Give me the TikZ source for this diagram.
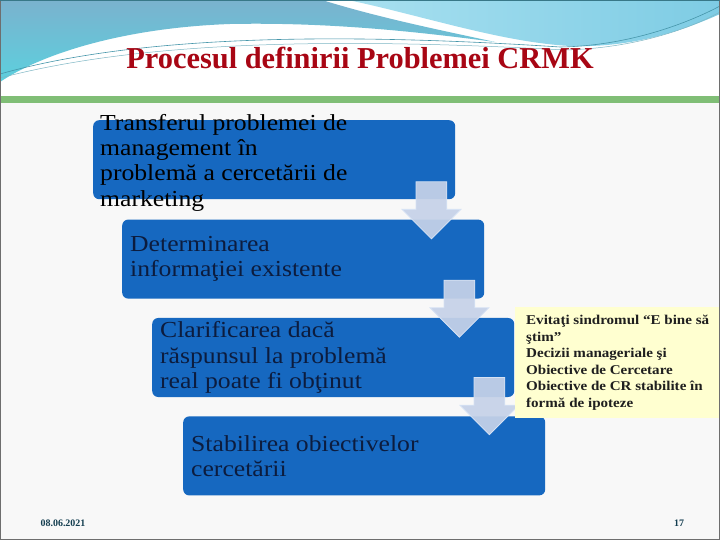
\documentclass[tikz,border=0pt]{standalone}
\usepackage{fontspec}
\setmainfont{Liberation Serif}
\newfontfamily\widefont[FakeStretch=1.12]{Liberation Serif}
\usetikzlibrary{shapes.arrows, positioning, calc}
\definecolor{boxblue}{RGB}{22,104,192}
\definecolor{arrowgrey}{RGB}{198,210,232}
\definecolor{arrowedge}{RGB}{214,226,244}
\definecolor{titlered}{RGB}{168,6,20}
\definecolor{textnavy}{RGB}{12,28,62}
\definecolor{noteyellow}{RGB}{255,255,208}
\definecolor{bargreen}{RGB}{128,190,118}
\definecolor{skytop}{RGB}{122,178,206}
\definecolor{skyteal}{RGB}{92,208,222}
\definecolor{skylight}{RGB}{168,224,240}
\definecolor{skymid}{RGB}{126,204,228}
\definecolor{waveline}{RGB}{70,150,170}
\definecolor{footteal}{RGB}{20,62,80}
\definecolor{slidebg}{RGB}{248,248,248}
\definecolor{frame}{RGB}{110,110,110}
\tikzset{
  stepbox/.style={rectangle, fill=boxblue, rounded corners=6bp,
    minimum width=362bp, minimum height=79bp, inner sep=0pt, anchor=north west},
  steptext/.style={anchor=west, align=left, inner sep=0pt,
    font=\widefont\fontsize{23}{25.5}\selectfont, text=textnavy},
  downarrow/.style={single arrow, rotate=-90, anchor=tail, fill=arrowgrey, fill opacity=0.93,
    draw=arrowedge, line width=0.8bp, minimum height=57bp,
    inner xsep=0pt, inner ysep=15bp, single arrow head extend=14bp},
  notebox/.style={rectangle, fill=noteyellow, anchor=north west, align=left,
    minimum width=205bp, minimum height=111bp, inner xsep=10bp, inner ysep=0pt,
    font=\widefont\fontsize{13.5}{16.5}\selectfont\bfseries, text=black!88},
  foot/.style={font=\fontsize{10}{12}\selectfont\bfseries, text=footteal}
}
\begin{document}
\begin{tikzpicture}[x=1bp, y=-1bp]
  \useasboundingbox (0,0) rectangle (720,540);
  % Slide background
  \fill[slidebg] (0,0) rectangle (720,540);
  \fill[white] (0,0) rectangle (720,100);

  % Header waves
  \shade[top color=skytop, bottom color=skyteal]
    (0,0) -- (322,0) .. controls (380,18) and (440,30) .. (495,42)
    .. controls (420,32) and (330,22) .. (230,24)
    .. controls (120,28) and (40,55) .. (0,82) -- cycle;
  \shade[left color=skylight, right color=skymid]
    (348,0) -- (720,0) -- (720,14) .. controls (680,32) and (630,48) .. (570,46)
    .. controls (500,42) and (420,15) .. (348,0) -- cycle;
  \draw[waveline, line width=0.6bp]
    (0,74) .. controls (120,40) and (300,30) .. (560,47)
    .. controls (630,46) and (690,22) .. (720,6);
  \draw[waveline!70, line width=0.5bp]
    (0,78) .. controls (130,44) and (310,36) .. (565,50)
    .. controls (640,48) and (695,26) .. (720,12);

  % Green bar
  \fill[bargreen] (0,96) rectangle (720,103);

  % Title
  \node[font=\fontsize{30.5}{32}\selectfont\bfseries, text=titlered] (title) at (360,58)
    {Procesul definirii Problemei CRMK};

  % Steps
  \node[stepbox] (b1) at (93,120) {};
  \node[stepbox] (b2) at ($(b1.south west)+(29,20)$) {};
  \node[stepbox] (b3) at ($(b2.south west)+(30,19)$) {};
  \node[stepbox] (b4) at ($(b3.south west)+(31,19)$) {};

  % Arrows between steps
  \node[downarrow] (a1) at ($(b1.south east)+(-24,-18)$) {};
  \node[downarrow] (a2) at ($(b2.south east)+(-25,-19)$) {};
  \node[downarrow] (a3) at ($(b3.south east)+(-25,-20)$) {};

  % Step texts
  \node[steptext, text=black] (t1) at ($(b1.west)+(7,3)$)
    {Transferul problemei de\\management în\\problemă a cercetării de\\marketing};
  \node[steptext] (t2) at ($(b2.west)+(8,0)$)
    {Determinarea\\informaţiei existente};
  \node[steptext] (t3) at ($(b3.west)+(8,0)$)
    {Clarificarea dacă\\răspunsul la problemă\\real poate fi obţinut};
  \node[steptext] (t4) at ($(b4.west)+(8,0)$)
    {Stabilirea obiectivelor\\cercetării};

  % Note
  \node[notebox] (note) at (515,307)
    {Evitaţi sindromul “E bine să\\ştim”\\Decizii manageriale şi\\Obiective de Cercetare\\Obiective de CR stabilite în\\formă de ipoteze};

  % Footer
  \node[foot] (date) at (63,523) {08.06.2021};
  \node[foot] (page) at (679,523) {17};

  % Frame
  \draw[frame, line width=1.2bp] (0.6,0.6) rectangle (719.4,539.4);
  \draw[waveline!80!black, line width=1.5bp] (0,0.75) -- (720,0.75);
\end{tikzpicture}
\end{document}
